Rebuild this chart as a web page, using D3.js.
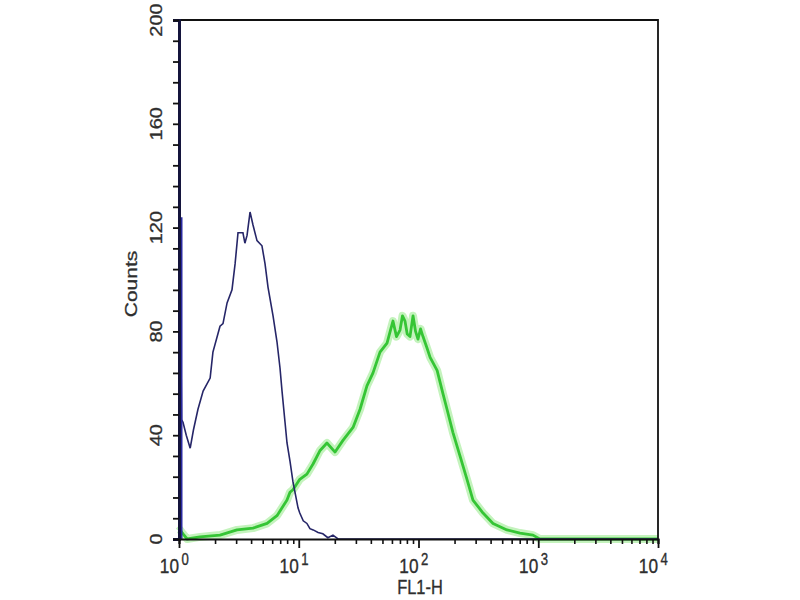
<!DOCTYPE html>
<html>
<head>
<meta charset="utf-8">
<script src="https://cdn.jsdelivr.net/npm/d3@7"></script>
<style>
  body { margin: 0; background: #fff; }
  text { font-family: "Liberation Sans", Arial, sans-serif; fill: #2e2e2e; stroke: #2e2e2e; stroke-width: 0.35; }
</style>
</head>
<body>
<div id="viz-container"></div>
<script>
// FL1-H histogram
// control (blue) population
const blueFL1 = [1.00, 1.00, 1.02, 1.05, 1.08, 1.15, 1.24, 1.32, 1.44, 1.59, 1.82, 1.92, 2.20, 2.33, 2.52, 2.77, 2.94, 3.11, 3.42, 3.55, 3.70, 3.92, 4.15, 4.48, 4.93, 5.23, 5.54, 6.10, 6.58, 6.97, 7.25, 7.68, 7.98, 8.45, 8.95, 9.86, 10.2, 10.9, 11.7, 12.4, 13.2, 14.5, 15.9, 17.5, 19.3, 21.3, 10000];
const blueCounts = [0, 124, 124, 46, 45, 40, 35, 42, 50, 57, 62, 72, 82, 83, 91, 96, 106, 118, 118, 114, 117, 126, 121, 115, 113, 106, 97, 86, 76, 66, 57, 45, 37, 30, 22, 12, 10, 7, 6, 4, 3.5, 2.5, 2, 0.5, 1.5, 0, 0];

// stained (green) population
const greenFL1 = [1.00, 1.02, 1.08, 1.17, 1.50, 2.20, 3.05, 4.15, 5.44, 6.58, 7.98, 8.45, 8.95, 10.2, 11.7, 13.2, 15.0, 17.2, 20.1, 23.4, 28.4, 32.5, 37.1, 41.7, 47.7, 54.6, 58.0, 61.2, 65.5, 70.1, 73.5, 77.1, 80.5, 84.9, 90.0, 94.5, 99.0, 104, 109, 117, 125, 143, 160, 173, 194, 222, 254, 285, 346, 419, 548, 704, 904, 1030, 10000];
const greenCounts = [3, 3.5, 2, 0, 0.8, 1.5, 3.5, 4.2, 6, 9, 15, 18, 19, 23, 25, 29, 34, 37, 33.5, 38, 43, 50, 59, 64, 72, 75.5, 80, 84, 78, 80.5, 86, 84, 79, 78, 86, 80, 77, 81, 78, 74, 70, 65, 56, 50, 41, 32, 23, 15, 10, 6, 3.5, 2.3, 1.5, 0, 0];

const yTickValues = d3.range(0, 201, 8);
const yLabels = [0, 40, 80, 120, 160, 200];
const xDecades = [1, 10, 100, 1000, 10000];
const xExponents = ["0", "1", "2", "3", "4"];

const width = 800, height = 600;
const plotLeft = 179, plotRight = 658, plotTop = 20, plotBottom = 539;
const squeeze = 0.82; // text in the picture is horizontally condensed

const svg = d3.select("#viz-container")
    .append("svg")
    .attr("width", width)
    .attr("height", height);

const x = d3.scaleLog().domain([1, 10000]).range([plotLeft, plotRight]);
const y = d3.scaleLinear().domain([0, 200]).range([plotBottom, plotTop]);

const line = d3.line()
    .x(d => x(d[0]))
    .y(d => y(d[1]));

const blue = blueFL1.map((v, i) => [v, blueCounts[i]]);
const green = greenFL1.map((v, i) => [v, greenCounts[i]]);

// green halo then line
svg.append("path")
    .attr("d", line(green))
    .attr("fill", "none")
    .attr("stroke", "#c4f3bd")
    .attr("stroke-width", 8)
    .attr("stroke-linejoin", "round");
svg.append("path")
    .attr("d", line(green))
    .attr("fill", "none")
    .attr("stroke", "#35c535")
    .attr("stroke-width", 2.8)
    .attr("stroke-linejoin", "round");

svg.append("path")
    .attr("d", line(blue))
    .attr("fill", "none")
    .attr("stroke", "#262668")
    .attr("stroke-width", 1.6);

// thick part of the first channel spike
svg.append("line")
    .attr("x1", x(1) + 2).attr("x2", x(1) + 2)
    .attr("y1", y(0)).attr("y2", y(124))
    .attr("stroke", "#2a2aa0")
    .attr("stroke-width", 3);

// frame: top and right
svg.append("path")
    .attr("d", `M${plotLeft},${plotTop}H${plotRight}V${plotBottom}`)
    .attr("fill", "none")
    .attr("stroke", "#111")
    .attr("stroke-width", 1.8);

// y axis
const yAxis = svg.append("g")
    .attr("transform", `translate(${plotLeft},0)`)
    .call(d3.axisLeft(y).tickValues(yTickValues).tickSize(6).tickFormat(""));
yAxis.select(".domain").attr("stroke", "#14143c").attr("stroke-width", 3);
yAxis.selectAll(".tick line").attr("stroke", "#111").attr("stroke-width", 1.8);

// x axis: minor and major log ticks
const minorTicks = [];
xDecades.slice(0, -1).forEach(d => {
    for (let k = 2; k <= 9; k++) minorTicks.push(d * k);
});
const xMinor = svg.append("g")
    .attr("transform", `translate(0,${plotBottom})`)
    .call(d3.axisBottom(x).tickValues(minorTicks).tickSize(5).tickFormat(""));
xMinor.select(".domain").attr("stroke", "#111").attr("stroke-width", 2.2);
xMinor.selectAll(".tick line").attr("stroke", "#111").attr("stroke-width", 1.6);

const xMajor = svg.append("g")
    .attr("transform", `translate(0,${plotBottom})`)
    .call(d3.axisBottom(x).tickValues(xDecades).tickSize(9).tickFormat(""));
xMajor.select(".domain").remove();
xMajor.selectAll(".tick line").attr("stroke", "#111").attr("stroke-width", 1.8);

// y labels, rotated
yLabels.forEach(v => {
    svg.append("g")
        .attr("transform", `translate(162,${y(v)}) scale(${squeeze},1) rotate(-90)`)
        .append("text")
        .attr("text-anchor", "middle")
        .attr("font-size", 20)
        .text(v);
});

// x labels: 10 with superscript exponent
xDecades.forEach((v, i) => {
    const g = svg.append("g")
        .attr("transform", `translate(${x(v)},573) scale(${squeeze},1)`);
    g.append("text")
        .attr("text-anchor", "end")
        .attr("font-size", 21)
        .text("10");
    g.append("text")
        .attr("x", 3)
        .attr("y", -8)
        .attr("font-size", 16)
        .text(xExponents[i]);
});

// axis titles
svg.append("g")
    .attr("transform", `translate(137,284) scale(${squeeze},1) rotate(-90)`)
    .append("text")
    .attr("text-anchor", "middle")
    .attr("font-size", 21)
    .text("Counts");

svg.append("g")
    .attr("transform", `translate(420,594) scale(${squeeze},1)`)
    .append("text")
    .attr("text-anchor", "middle")
    .attr("font-size", 20)
    .text("FL1-H");
</script>
</body>
</html>
